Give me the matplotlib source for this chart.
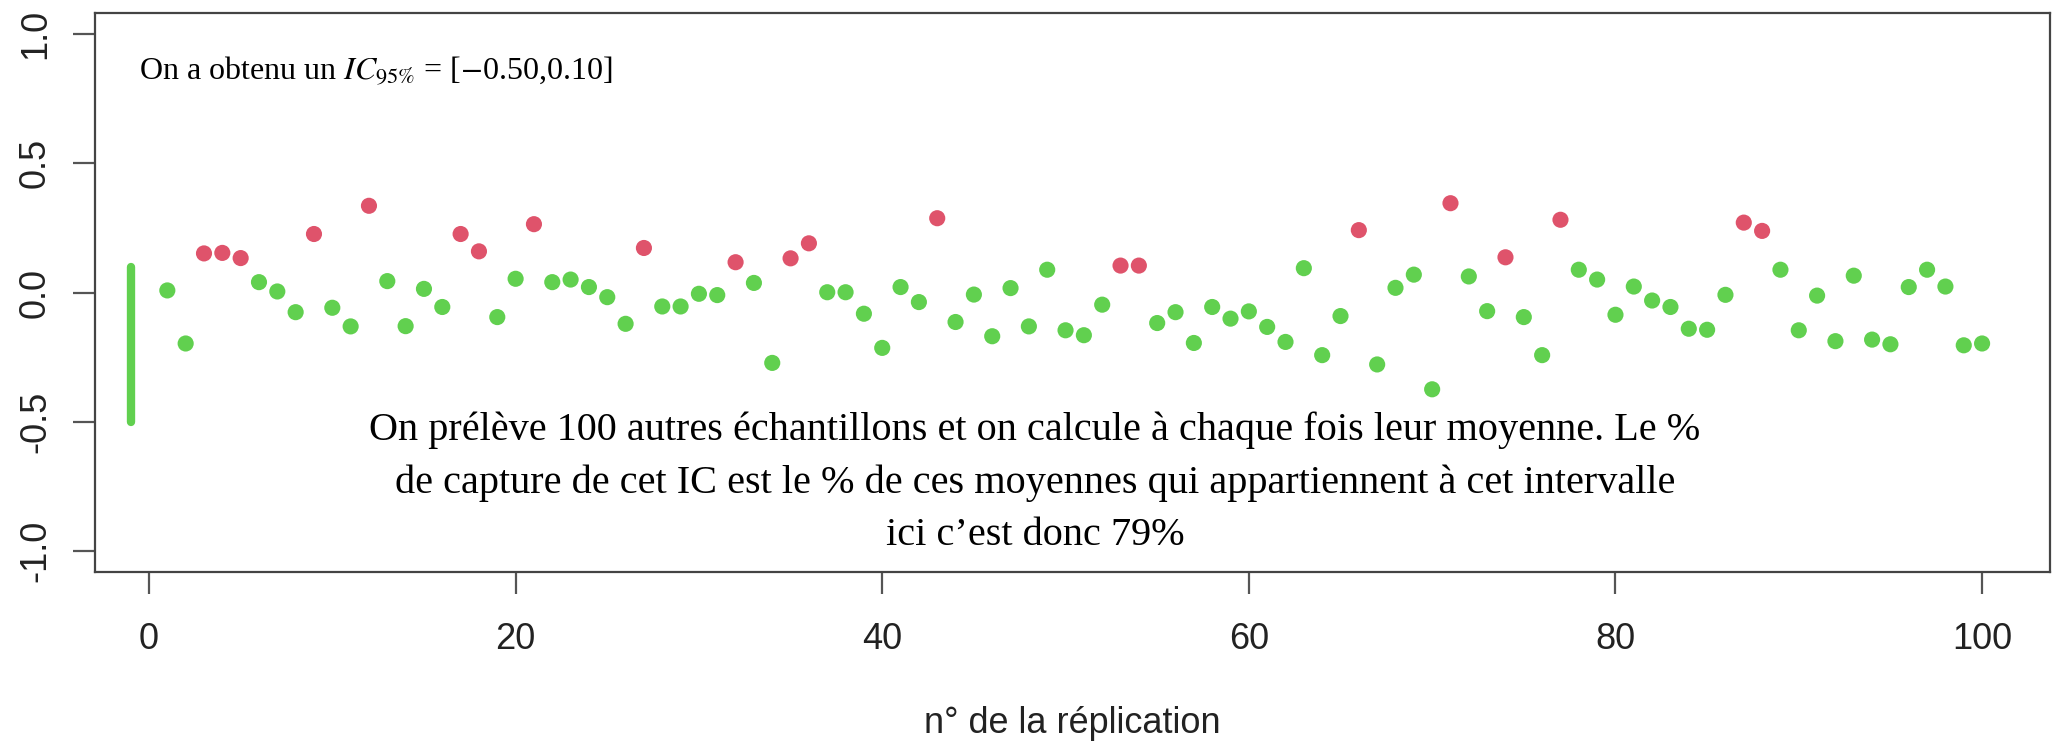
import matplotlib
matplotlib.use("Agg")
import matplotlib.pyplot as plt
import numpy as np

plt.rcParams.update({
    "font.family": "Liberation Sans",
    "mathtext.fontset": "stix",
    "axes.unicode_minus": False,
})

# Confidence interval from the first sample
IC_LOW, IC_HIGH = -0.50, 0.10
IC_X = -1

# Means of the 100 replicated samples
replication = np.arange(1, 101)
means = [
    0.008, -0.197, 0.151, 0.153, 0.133, 0.040, 0.004, -0.076, 0.226, -0.059,
    -0.131, 0.335, 0.044, -0.130, 0.014, -0.056, 0.226, 0.159, -0.095, 0.053,
    0.264, 0.040, 0.050, 0.021, -0.018, -0.121, 0.172, -0.054, -0.054, -0.005,
    -0.010, 0.117, 0.037, -0.272, 0.132, 0.190, 0.001, 0.001, -0.082, -0.214,
    0.021, -0.037, 0.287, -0.114, -0.008, -0.169, 0.017, -0.131, 0.088, -0.146,
    -0.165, -0.047, 0.104, 0.104, -0.118, -0.076, -0.195, -0.056, -0.101, -0.073,
    -0.133, -0.191, 0.094, -0.242, -0.091, 0.241, -0.278, 0.018, 0.069, -0.374,
    0.345, 0.062, -0.072, 0.136, -0.095, -0.242, 0.281, 0.088, 0.050, -0.086,
    0.023, -0.031, -0.056, -0.140, -0.144, -0.009, 0.270, 0.238, 0.088, -0.146,
    -0.012, -0.188, 0.065, -0.182, -0.200, 0.021, 0.088, 0.023, -0.204, -0.197,
]

x_ticks = [0, 20, 40, 60, 80, 100]
y_ticks = [-1.0, -0.5, 0.0, 0.5, 1.0]
y_tick_labels = ["-1.0", "-0.5", "0.0", "0.5", "1.0"]

GREEN = "#61D04F"
RED = "#DF536B"

means = np.array(means)
inside = (means >= IC_LOW) & (means <= IC_HIGH)
colors = np.where(inside, GREEN, RED)
capture = 100 * inside.mean()

fig = plt.figure(figsize=(20.6, 7.5), dpi=100)
ax = fig.add_axes([0.0459, 0.2373, 0.9492, 0.7454])

ax.plot([IC_X, IC_X], [IC_LOW, IC_HIGH], color=GREEN, linewidth=6,
        solid_capstyle="round")
ax.scatter(replication, means, c=colors, s=135, linewidths=0, zorder=3)

ax.set_xlim(-2.97, 103.7)
ax.set_ylim(-1.08, 1.08)
ax.set_xticks(x_ticks)
ax.set_yticks(y_ticks)
ax.set_yticklabels(y_tick_labels, rotation=90, va="center")
ax.tick_params(axis="both", length=16, width=1.6, color="#555555",
               labelsize=26, labelcolor="#222222", pad=20)
ax.tick_params(axis="y", pad=14)
for sp in ax.spines.values():
    sp.set_linewidth(1.6)
    sp.set_color("#444444")

ax.set_xlabel("n° de la réplication", fontsize=26, color="#222222", labelpad=35)

ax.text(0.0225, 0.882,
        r"On a obtenu un $IC_{95\%}$ = [$-$0.50,0.10]",
        transform=ax.transAxes, fontsize=23, family="Liberation Serif",
        va="baseline", ha="left")

ax.text(0.481, 0.16,
        "On prélève 100 autres échantillons et on calcule à chaque fois leur moyenne. Le %\n"
        "de capture de cet IC est le % de ces moyennes qui appartiennent à cet intervalle\n"
        f"ici c’est donc {capture:.0f}%",
        transform=ax.transAxes, fontsize=29, family="Liberation Serif",
        ha="center", va="center", linespacing=1.55)

fig.savefig("out.png", dpi=100)
